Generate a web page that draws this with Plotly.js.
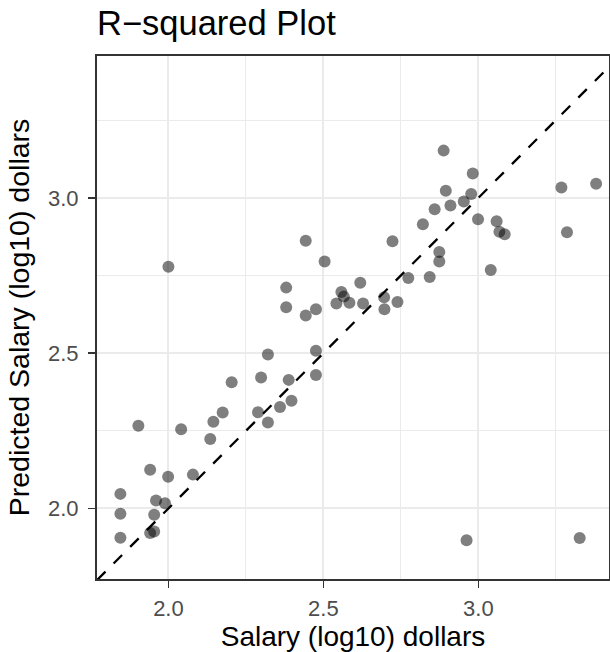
<!DOCTYPE html>
<html>
<head>
<meta charset="utf-8">
<script src="https://cdn.plot.ly/plotly-3.0.1.min.js"></script>
<style>
  html, body { margin: 0; padding: 0; background: #ffffff; }
  #chart { width: 610px; height: 652px; }
</style>
</head>
<body>
<div id="chart"></div>
<script>
// Observed salary (log10 dollars)
const actual = [
  2.000, 2.443, 2.504, 2.380, 2.380, 2.443, 2.476, 2.542, 2.558, 2.566,
  2.584, 2.619, 2.628, 2.696, 2.697, 2.739, 2.774, 2.843, 2.723, 2.874,
  2.874, 3.040, 2.888, 2.982, 2.895, 2.977, 2.953, 2.910, 2.859, 2.821,
  2.999, 3.059, 3.068, 3.085, 3.268, 3.380, 3.286, 2.321, 2.476, 2.299,
  2.388, 2.476, 2.204, 2.289, 2.360, 2.397, 2.321, 2.175, 2.145, 2.135,
  1.903, 2.041, 1.941, 1.999, 2.079, 1.845, 1.845, 1.845, 1.960, 1.989,
  1.954, 1.941, 1.954, 2.962, 3.327
];

// Model prediction for the same players (log10 dollars)
const predicted = [
  2.778, 2.862, 2.795, 2.711, 2.648, 2.621, 2.641, 2.660, 2.697, 2.682,
  2.662, 2.727, 2.660, 2.680, 2.641, 2.665, 2.742, 2.745, 2.860, 2.826,
  2.795, 2.768, 3.152, 3.078, 3.023, 3.012, 2.988, 2.975, 2.963, 2.915,
  2.931, 2.925, 2.891, 2.883, 3.033, 3.045, 2.889, 2.496, 2.508, 2.422,
  2.414, 2.430, 2.406, 2.310, 2.327, 2.347, 2.277, 2.309, 2.279, 2.224,
  2.266, 2.255, 2.125, 2.102, 2.109, 2.047, 1.983, 1.906, 2.026, 2.017,
  1.980, 1.921, 1.926, 1.898, 1.905
];

// Axis extents and tick labels
const xRange = [1.7695, 3.4216];
const yRange = [1.773, 3.4566];
const tickVals = [2.0, 2.5, 3.0];
const tickText = ["2.0", "2.5", "3.0"];

// Identity reference line spanning both axes
const lo = Math.min(xRange[0], yRange[0]);
const hi = Math.max(xRange[1], yRange[1]);

const FONT = "Liberation Sans, Arial, Helvetica, sans-serif";

const traces = [
  {
    type: "scatter",
    mode: "markers",
    x: actual,
    y: predicted,
    marker: { size: 12, color: "rgba(0,0,0,0.5)", line: { width: 0 } },
    hoverinfo: "x+y"
  },
  {
    type: "scatter",
    mode: "lines",
    x: [lo, hi],
    y: [lo, hi],
    line: { color: "#000000", width: 2.3, dash: "12px,11.5px" },
    hoverinfo: "skip"
  }
];

const axisCommon = {
  tickvals: tickVals,
  ticktext: tickText,
  ticks: "outside",
  ticklen: 7,
  tickwidth: 1.6,
  tickcolor: "#333333",
  tickfont: { family: FONT, size: 22, color: "#4d4d4d" },
  showgrid: true,
  gridcolor: "#ebebeb",
  gridwidth: 2,
  minor: { dtick: 0.25, showgrid: true, gridcolor: "#ebebeb", gridwidth: 1 },
  zeroline: false,
  showline: true,
  mirror: true,
  linecolor: "#333333",
  linewidth: 2
};

const layout = {
  width: 610,
  height: 652,
  paper_bgcolor: "#ffffff",
  plot_bgcolor: "#ffffff",
  showlegend: false,
  margin: { l: 97, r: 1, t: 56, b: 73 },
  title: {
    text: "R\u2212squared Plot",
    font: { family: FONT, size: 34.5, color: "#000000" },
    x: 0, xref: "paper", xanchor: "left",
    y: 1 - 35 / 652, yref: "container", yanchor: "bottom"
  },
  xaxis: Object.assign({}, axisCommon, {
    range: xRange,
    ticklabelstandoff: 2,
    title: { text: "Salary (log10) dollars", font: { family: FONT, size: 28, color: "#000000" }, standoff: 4 }
  }),
  yaxis: Object.assign({}, axisCommon, {
    range: yRange,
    ticklabelstandoff: 5,
    title: { text: "Predicted Salary (log10) dollars", font: { family: FONT, size: 28.5, color: "#000000" }, standoff: 10 }
  })
};

Plotly.newPlot("chart", traces, layout, { displayModeBar: false, staticPlot: true });
</script>
</body>
</html>
